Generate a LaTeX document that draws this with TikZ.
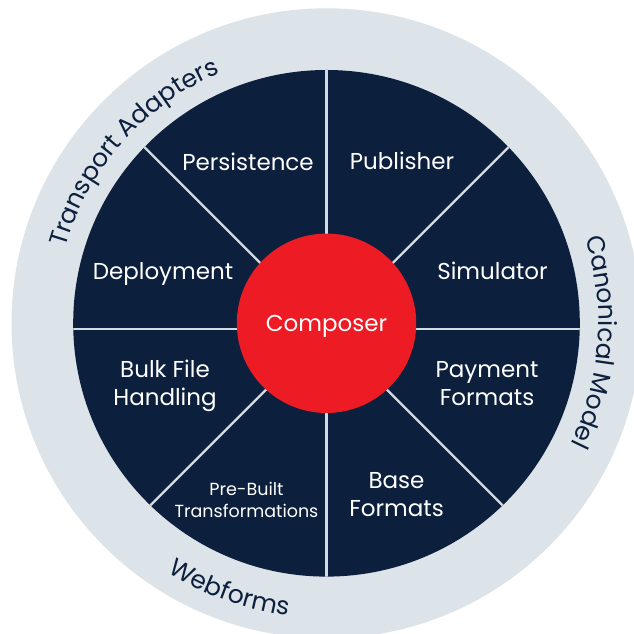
\documentclass[tikz,border=0pt]{standalone}
\usepackage{fontspec}
\setmainfont{Poppins}
\usetikzlibrary{decorations.text}
\definecolor{navy}{HTML}{0C1F3D}
\definecolor{ringgray}{HTML}{DCE3E9}
\definecolor{composerred}{HTML}{ED1C24}
\definecolor{spokegray}{HTML}{D3DBE3}

\begin{document}
\begin{tikzpicture}[x=1pt,y=1pt,
	sector/.style={text=white, font=\fontsize{23}{27.7}\selectfont, align=center, inner sep=0pt, anchor=base},
	small sector/.style={sector, font=\fontsize{17.5}{22}\selectfont},
	ring text/.style={decorate, decoration={text along path, text align=center, text={|\color{navy}\fontsize{25}{30}\selectfont|#1}}}]
	\useasboundingbox (0,0) rectangle (634,634);
	\clip (0,0) rectangle (634,634);
	\coordinate (c) at (326.5,310.7);
	\coordinate (hub) at (326.5,304.7);
	\fill[ringgray] (c) circle[radius=315];
	\fill[navy] (c) circle[radius=253.3];
	\begin{scope}
		\clip (c) circle[radius=253.3];
		\foreach \a in {0,45,...,315}
			\draw[spokegray, line width=2.3pt] (hub) -- ++(\a:300);
	\end{scope}
	\node[circle, fill=composerred, minimum size=179.4pt, inner sep=0pt, text=white, font=\fontsize{23}{27.7}\selectfont, text depth=0pt] (composer) at (c) {Composer};
	\node[sector] (persistence) at (248,463.5) {Persistence};
	\node[sector] (publisher) at (402,464) {Publisher};
	\node[sector] (deployment) at (163,354) {Deployment};
	\node[sector] (simulator) at (492.5,354) {Simulator};
	\node[sector] (bulkfile) at (165,228.3) {Bulk File\\Handling};
	\node[sector] (payment) at (487,228.3) {Payment\\Formats};
	\node[small sector] (prebuilt) at (246.5,116) {Pre-Built\\Transformations};
	\node[sector] (base) at (396.5,117.3) {Base\\Formats};
	\path[ring text={Transport Adapters}] (c) ++(180:272) arc[start angle=180, end angle=97, radius=272];
	\path[ring text={Canonical Model}] (c) ++(40:272) arc[start angle=40, end angle=-48, radius=272];
	\path[ring text={Webforms}] (c) ++(210:295) arc[start angle=210, end angle=290, radius=295];
\end{tikzpicture}
\end{document}
